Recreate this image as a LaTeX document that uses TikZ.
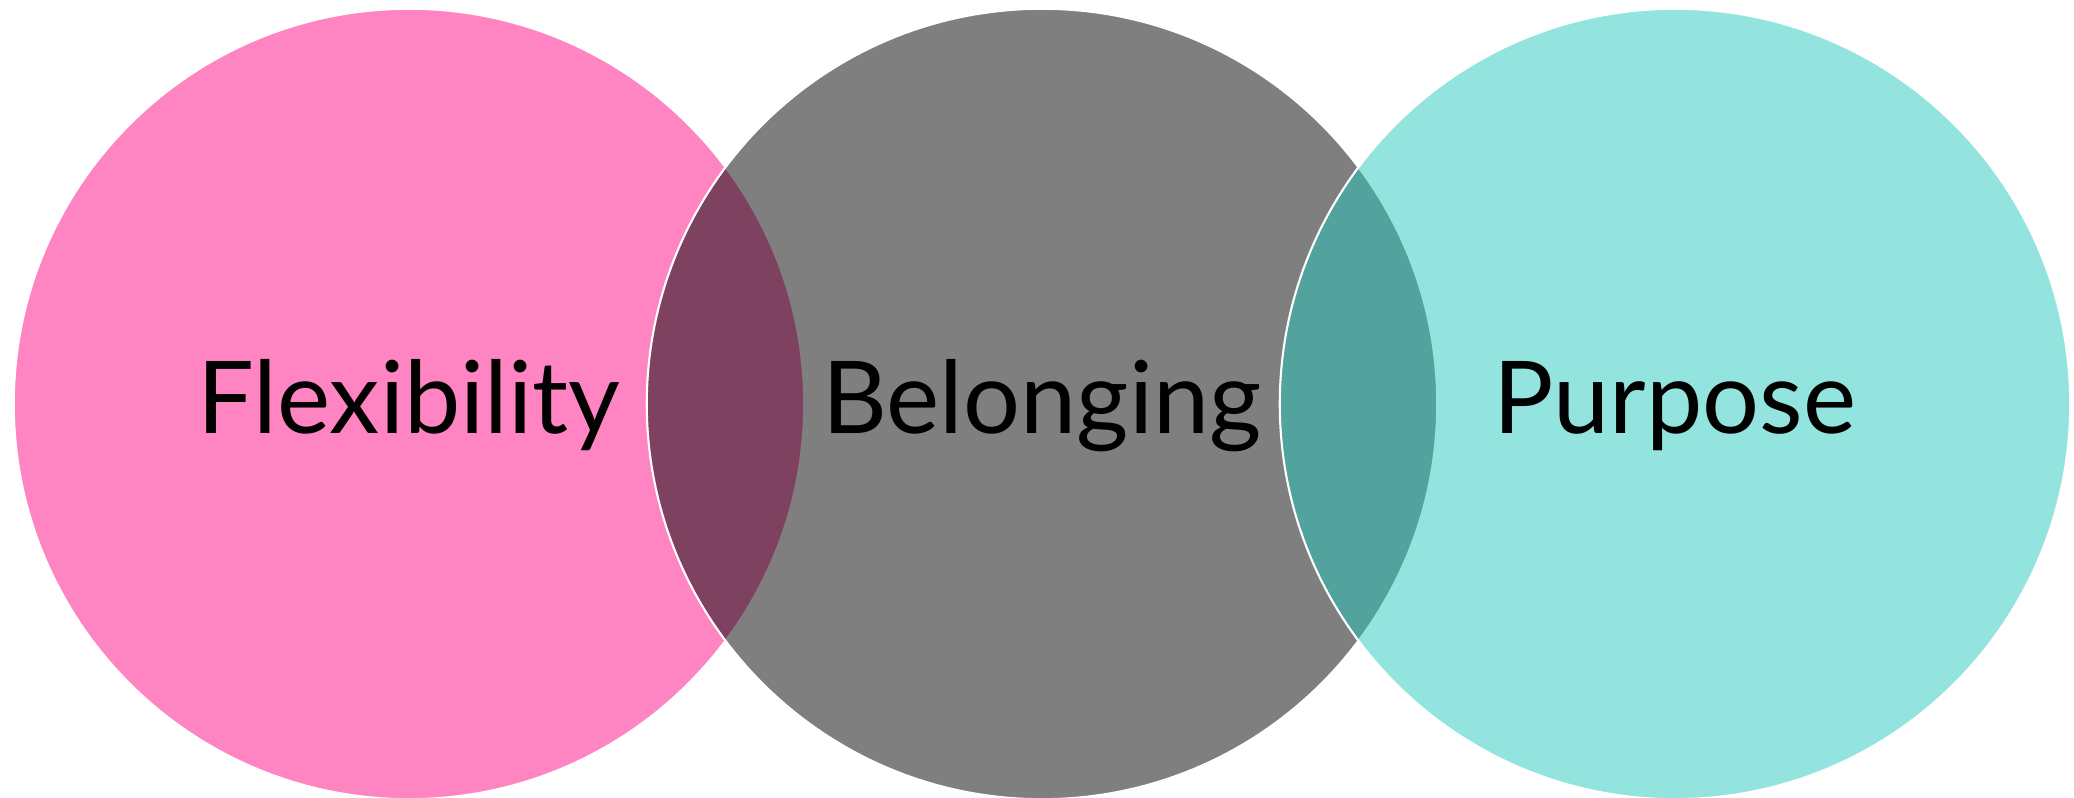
\documentclass[tikz,border=0pt]{standalone}
\usepackage{fontspec}
\setmainfont{Lato}
\definecolor{flexpink}{HTML}{FF84C2}
\definecolor{purposeteal}{RGB}{35,200,188}
\begin{document}
\begin{tikzpicture}[x=0.01cm, y=-0.01cm,
        venn/.style={circle, draw=white, line width=0.6pt, minimum size=7.9cm, inner sep=0pt},
        word/.style={anchor=base, font=\fontsize{28.6}{34}\selectfont, text=black}
    ]
        \useasboundingbox (0,0) rectangle (2074,798);

        \node[venn, fill=flexpink] (flex) at (409,404) {};
        \node[venn, fill=black, fill opacity=0.5] (belong) at (1042,404) {};
        \node[venn, fill=purposeteal, fill opacity=0.49] (purpose) at (1675,404) {};

        \node[word] (flextext) at (409,434) {Flexibility};
        \node[word] (belongtext) at (1042,434) {Belonging};
        \node[word] (purposetext) at (1675,434) {Purpose};
    \end{tikzpicture}
\end{document}
